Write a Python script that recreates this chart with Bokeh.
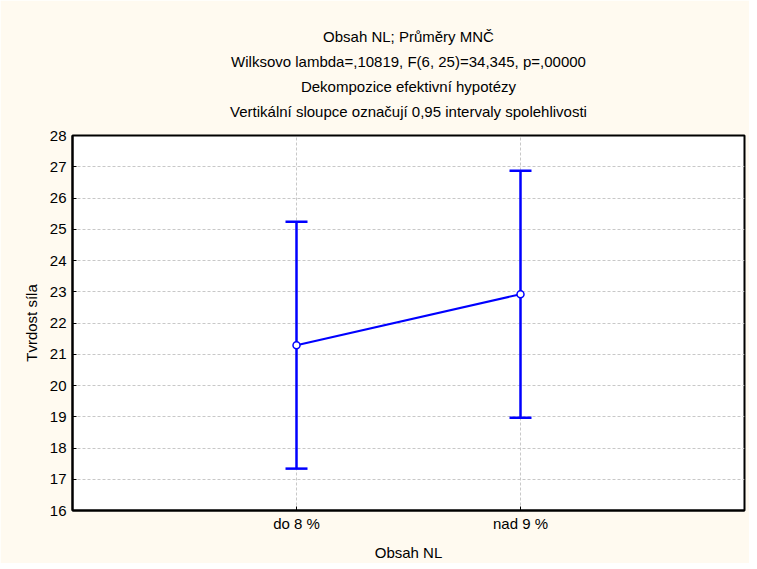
from bokeh.plotting import figure
from bokeh.models import (ColumnDataSource, Whisker, TeeHead, Title, FixedTicker,
                          Range1d)
from bokeh.embed import file_html
from bokeh.resources import INLINE

# ---- data ----
categories = ["do 8 %", "nad 9 %"]
means = [21.29, 22.92]
ci_lower = [17.34, 18.97]
ci_upper = [25.24, 26.87]
y_ticks = list(range(16, 29))

titles = [
    "Obsah NL; Průměry MNČ",
    "Wilksovo lambda=,10819, F(6, 25)=34,345, p=,00000",
    "Dekompozice efektivní hypotézy",
    "Vertikální sloupce označují 0,95 intervaly spolehlivosti",
]

xpos = [i + 1 for i in range(len(categories))]
src = ColumnDataSource(dict(x=xpos, mean=means, lo=ci_lower, hi=ci_upper))

FONT = "Liberation Sans"
BG = "#FFFAF0"
BLUE = "#0000FF"

p = figure(frame_width=672, frame_height=375,
           x_range=Range1d(0, 3), y_range=Range1d(16, 28),
           output_backend="svg", toolbar_location=None,
           min_border_left=72, min_border_right=5,
           min_border_top=135, min_border_bottom=52)
p.title = None
p.background_fill_color = "white"
p.border_fill_color = BG
p.outline_line_color = "black"
p.outline_line_width = 2

# spacer between frame and the lowest title line
p.add_layout(Title(text=" ", text_font=FONT, text_font_size="10px",
                   standoff=0), "above")
for t in reversed(titles):
    p.add_layout(Title(text=t, align="center", text_font=FONT,
                       text_font_size="15px", text_font_style="normal",
                       text_color="black", standoff=6), "above")

# axes
p.xaxis.ticker = FixedTicker(ticks=xpos)
p.xaxis.major_label_overrides = {x: c for x, c in zip(xpos, categories)}
p.yaxis.ticker = FixedTicker(ticks=y_ticks)
p.xaxis.axis_label = "Obsah NL"
p.yaxis.axis_label = "Tvrdost síla"
for ax in (p.xaxis[0], p.yaxis[0]):
    ax.axis_line_color = "black"
    ax.axis_line_width = 2
    ax.major_tick_in = 4
    ax.major_tick_out = 0
    ax.major_tick_line_color = "black"
    ax.major_tick_line_width = 1
    ax.minor_tick_line_color = None
    ax.major_label_text_font = FONT
    ax.major_label_text_font_size = "15px"
    ax.major_label_text_color = "black"
    ax.axis_label_text_font = FONT
    ax.axis_label_text_font_size = "15px"
    ax.axis_label_text_font_style = "normal"
    ax.axis_label_text_color = "black"
p.xaxis.major_label_standoff = 4
p.yaxis.major_label_standoff = 6
p.xaxis.axis_label_standoff = 9
p.yaxis.axis_label_standoff = 7

for g in (p.xgrid[0], p.ygrid[0]):
    g.grid_line_color = "#C8C8C8"
    g.grid_line_dash = "3 2"
    g.grid_line_width = 1

# error bars
wh = Whisker(source=src, base="x", upper="hi", lower="lo",
             line_color=BLUE, line_width=2.5,
             upper_head=TeeHead(size=22, line_color=BLUE, line_width=2.5),
             lower_head=TeeHead(size=22, line_color=BLUE, line_width=2.5))
p.add_layout(wh)

p.line("x", "mean", source=src, line_color=BLUE, line_width=2)
p.scatter("x", "mean", source=src, size=7, marker="circle",
          line_color=BLUE, line_width=1.5, fill_color="white")

open("out.html", "w").write(file_html(p, INLINE))
